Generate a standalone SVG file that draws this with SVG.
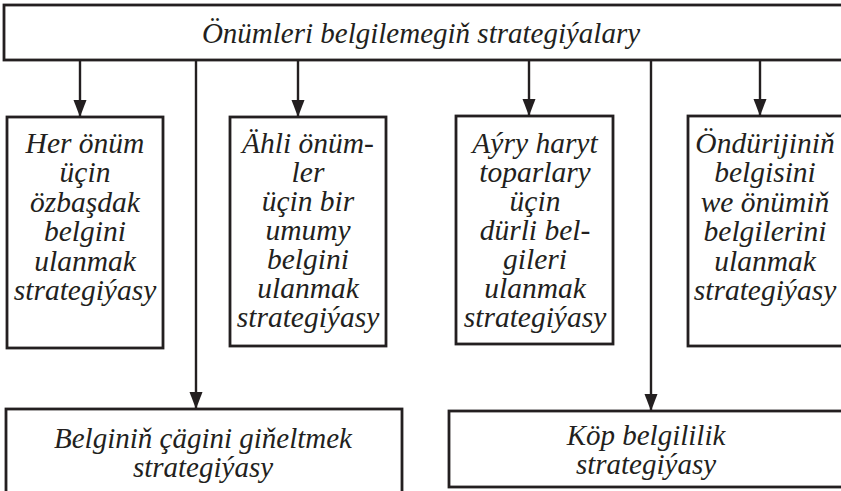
<svg xmlns="http://www.w3.org/2000/svg" width="841" height="491" viewBox="0 0 841 491">
<defs>
<marker id="arr" markerUnits="userSpaceOnUse" markerWidth="18" markerHeight="14" refX="17" refY="6.5" orient="auto">
<path d="M0,0 L17,6.5 L0,13 z" fill="#231f20"/>
</marker>
<style>
.box{fill:#fff;stroke:#231f20;stroke-width:2.8}
.con{fill:none;stroke:#231f20;stroke-width:2.4;marker-end:url(#arr)}
.t{font-family:"Liberation Serif","Times New Roman",serif;font-style:italic;fill:#231f20;text-anchor:middle}
.big{font-size:29px}
.mid{font-size:29.5px}
</style>
</defs>
<rect width="841" height="491" fill="#fff"/>
<g id="connectors">
<line class="con" x1="80" y1="60" x2="80" y2="117"/>
<line class="con" x1="298" y1="60" x2="298" y2="117"/>
<line class="con" x1="529" y1="60" x2="529" y2="116"/>
<line class="con" x1="760" y1="60" x2="760" y2="116"/>
<line class="con" x1="196" y1="60" x2="196" y2="409"/>
<line class="con" x1="651" y1="60" x2="651" y2="411"/>
</g>
<g id="root">
<rect class="box" x="4" y="5" width="845" height="55"/>
<text class="t big" x="421" y="43">Önümleri belgilemegiň strategiýalary</text>
</g>
<g id="n1">
<rect class="box" x="7" y="117" width="156" height="231"/>
<text class="t mid" x="85" y="153">Her önüm</text>
<text class="t mid" x="85" y="182.4">üçin</text>
<text class="t mid" x="85" y="211.8">özbaşdak</text>
<text class="t mid" x="85" y="241.2">belgini</text>
<text class="t mid" x="85" y="270.6">ulanmak</text>
<text class="t mid" x="85" y="300">strategiýasy</text>
</g>
<g id="n2">
<rect class="box" x="230" y="117" width="156" height="229"/>
<text class="t mid" x="308" y="153">Ähli önüm-</text>
<text class="t mid" x="308" y="182">ler</text>
<text class="t mid" x="308" y="211">üçin bir</text>
<text class="t mid" x="308" y="240">umumy</text>
<text class="t mid" x="308" y="269">belgini</text>
<text class="t mid" x="308" y="298">ulanmak</text>
<text class="t mid" x="308" y="327">strategiýasy</text>
</g>
<g id="n3">
<rect class="box" x="456" y="116" width="157" height="228"/>
<text class="t mid" x="535" y="153">Aýry haryt</text>
<text class="t mid" x="535" y="182">toparlary</text>
<text class="t mid" x="535" y="211">üçin</text>
<text class="t mid" x="535" y="240">dürli bel-</text>
<text class="t mid" x="535" y="269">gileri</text>
<text class="t mid" x="535" y="298">ulanmak</text>
<text class="t mid" x="535" y="327">strategiýasy</text>
</g>
<g id="n4">
<rect class="box" x="688" y="116" width="156" height="230"/>
<text class="t mid" x="765" y="153">Öndürijiniň</text>
<text class="t mid" x="765" y="182.4">belgisini</text>
<text class="t mid" x="765" y="211.8">we önümiň</text>
<text class="t mid" x="765" y="241.2">belgilerini</text>
<text class="t mid" x="765" y="270.6">ulanmak</text>
<text class="t mid" x="765" y="300">strategiýasy</text>
</g>
<g id="n5">
<rect class="box" x="6" y="409" width="396" height="90"/>
<text class="t big" x="203" y="448">Belginiň çägini giňeltmek</text>
<text class="t big" x="203" y="477">strategiýasy</text>
</g>
<g id="n6">
<rect class="box" x="449" y="411" width="400" height="76"/>
<text class="t big" x="646" y="445">Köp belgililik</text>
<text class="t big" x="646" y="474">strategiýasy</text>
</g>
</svg>
